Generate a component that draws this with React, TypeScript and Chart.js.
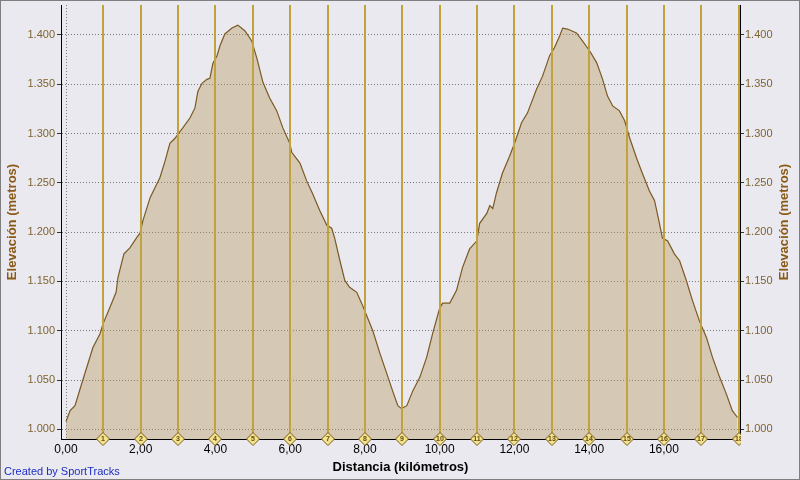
import React, { useEffect, useRef } from 'react';
import { Chart, registerables } from 'chart.js';

Chart.register(...registerables);

// ---- Data ----
const distanceKm = [
  0.0, 0.11, 0.24, 0.45, 0.72, 0.91, 0.99, 1.18, 1.34, 1.39, 1.55, 1.71, 1.9, 1.98,
  2.06, 2.25, 2.38, 2.51, 2.65, 2.78, 2.91, 2.99, 3.13, 3.32, 3.45, 3.53, 3.64, 3.77,
  3.85, 3.93, 4.04, 4.12, 4.25, 4.44, 4.6, 4.79, 4.97, 5.11, 5.27, 5.45, 5.64, 5.8,
  5.99, 6.04, 6.26, 6.44, 6.6, 6.79, 6.98, 7.11, 7.19, 7.33, 7.46, 7.59, 7.78, 7.91,
  8.05, 8.21, 8.4, 8.58, 8.74, 8.88, 8.98, 9.12, 9.28, 9.47, 9.65, 9.81, 10.0, 10.08,
  10.27, 10.45, 10.61, 10.8, 10.99, 11.07, 11.26, 11.34, 11.42, 11.52, 11.68, 11.87,
  12.01, 12.19, 12.35, 12.59, 12.75, 12.94, 13.07, 13.21, 13.29, 13.42, 13.66, 13.82,
  14.01, 14.2, 14.36, 14.49, 14.63, 14.81, 14.95, 15.08, 15.27, 15.43, 15.61, 15.75,
  15.88, 15.96, 16.1, 16.28, 16.42, 16.6, 16.76, 16.95, 17.14, 17.3, 17.49, 17.67,
  17.83, 17.97,
];
const elevationM = [
  1008, 1019, 1024, 1050, 1083, 1097, 1107, 1124, 1139, 1154, 1178, 1184, 1195, 1199,
  1212, 1235, 1245, 1255, 1272, 1290, 1295, 1299, 1306, 1316, 1326, 1343, 1351, 1355,
  1356, 1371, 1379, 1389, 1401, 1407, 1410, 1404, 1394, 1376, 1352, 1336, 1323, 1306,
  1290, 1281, 1270, 1252, 1239, 1222, 1207, 1204, 1194, 1171, 1151, 1144, 1139, 1128,
  1115, 1100, 1077, 1057, 1039, 1024, 1021, 1024, 1039, 1053, 1073, 1097, 1123, 1128,
  1128, 1141, 1164, 1183, 1191, 1209, 1219, 1227, 1224, 1240, 1260, 1277,
  1291, 1311, 1321, 1345, 1358, 1379, 1387, 1399, 1407, 1406, 1402, 1394,
  1384, 1372, 1355, 1338, 1328, 1323, 1313, 1296, 1275, 1259, 1242, 1232,
  1209, 1194, 1191, 1178, 1171, 1151, 1131, 1110, 1093, 1073, 1053, 1036,
  1019, 1012,
];
const markerKm = [1, 2, 3, 4, 5, 6, 7, 8, 9, 10, 11, 12, 13, 14, 15, 16, 17, 18];
const markerLabels = ['1', '2', '3', '4', '5', '6', '7', '8', '9', '10', '11', '12', '13', '14', '15', '16', '17', '18'];
const xTickValues = [0, 2, 4, 6, 8, 10, 12, 14, 16];
const yTickValues = [1000, 1050, 1100, 1150, 1200, 1250, 1300, 1350, 1400];
const xTitle = 'Distancia (kilómetros)';
const yTitle = 'Elevación (metros)';
const creditText = 'Created by SportTracks';

const X_MIN = -0.134;
const X_MAX = 18.036;
const Y_MIN = 990.2;
const Y_MAX = 1430.4;

const FONT = "'Liberation Sans', Arial, sans-serif";
const BG = '#EAE9EF';
const TITLE_BROWN = '#8A5A16';
const TICK_BROWN = '#7E6431';
const GOLD = '#C2A23C';

const fmtX = (v: number) => v.toFixed(2).replace('.', ',');
const fmtY = (v: number) => {
  const r = Math.round(v);
  return `${Math.floor(r / 1000)}.${String(r % 1000).padStart(3, '0')}`;
};

const zeroPad = (axis: any) => {
  axis.paddingTop = 0;
  axis.paddingBottom = 0;
  axis.paddingLeft = 0;
  axis.paddingRight = 0;
};

const decorPlugin = {
  id: 'decor',
  beforeDraw(chart: any) {
    const { ctx, width, height } = chart;
    ctx.save();
    ctx.fillStyle = BG;
    ctx.fillRect(0, 0, width, height);
    ctx.restore();
  },
  afterDatasetsDraw(chart: any) {
    const { ctx, chartArea, scales } = chart;
    const xs = scales.x;
    ctx.save();
    ctx.beginPath();
    ctx.rect(0, 0, chartArea.right + 1, chart.height);
    ctx.clip();
    // lap lines
    ctx.strokeStyle = GOLD;
    ctx.lineWidth = 2;
    markerKm.forEach((km) => {
      const px = Math.round(xs.getPixelForValue(km));
      ctx.beginPath();
      ctx.moveTo(px, chartArea.top);
      ctx.lineTo(px, chartArea.bottom);
      ctx.stroke();
    });
    // diamonds
    markerKm.forEach((km, i) => {
      const px = Math.round(xs.getPixelForValue(km));
      const py = Math.round(chartArea.bottom);
      const s = 6.5;
      ctx.beginPath();
      ctx.moveTo(px, py - s);
      ctx.lineTo(px + s, py);
      ctx.lineTo(px, py + s);
      ctx.lineTo(px - s, py);
      ctx.closePath();
      ctx.fillStyle = '#F1E38E';
      ctx.fill();
      ctx.strokeStyle = '#7A5A18';
      ctx.lineWidth = 1;
      ctx.stroke();
      ctx.fillStyle = '#6A4A10';
      ctx.font = `bold 7px ${FONT}`;
      ctx.textAlign = 'center';
      ctx.textBaseline = 'middle';
      ctx.fillText(markerLabels[i], px, py + 0.5);
    });
    ctx.restore();
  },
  afterDraw(chart: any) {
    const { ctx, chartArea, width, height } = chart;
    ctx.save();
    // right axis title (reads bottom-to-top)
    ctx.translate(784, (chartArea.top + chartArea.bottom) / 2);
    ctx.rotate(-Math.PI / 2);
    ctx.fillStyle = TITLE_BROWN;
    ctx.font = `bold 13px ${FONT}`;
    ctx.textAlign = 'center';
    ctx.textBaseline = 'middle';
    ctx.fillText(yTitle, 0, 0);
    ctx.restore();

    ctx.save();
    ctx.fillStyle = '#1B2EC4';
    ctx.font = `11px ${FONT}`;
    ctx.textAlign = 'left';
    ctx.textBaseline = 'middle';
    ctx.fillText(creditText, 4, 472);
    ctx.strokeStyle = '#7F7F7F';
    ctx.lineWidth = 1;
    ctx.strokeRect(0.5, 0.5, width - 1, height - 1);
    ctx.restore();
  },
};

export default function App() {
  const canvasRef = useRef<HTMLCanvasElement | null>(null);

  useEffect(() => {
    const canvas = canvasRef.current;
    if (!canvas) return;
    const points = distanceKm.map((d, i) => ({ x: d, y: elevationM[i] }));
    const yGrid = {
      color: '#7A7A7A',
      lineWidth: 1,
      tickLength: 4,
      tickColor: '#333333',
      tickBorderDash: [],
      tickWidth: 1,
    };
    const chart = new Chart(canvas, {
      type: 'line',
      data: {
        datasets: [
          {
            data: points,
            xAxisID: 'x',
            yAxisID: 'y',
            borderColor: '#7A5A22',
            borderWidth: 1.2,
            backgroundColor: 'rgba(183,150,96,0.4)',
            fill: 'start',
            pointRadius: 0,
            tension: 0,
          },
        ],
      },
      plugins: [decorPlugin],
      options: {
        responsive: false,
        animation: false,
        layout: { padding: { top: 5, left: 0, right: 0, bottom: 0 } },
        plugins: {
          legend: { display: false },
          tooltip: { enabled: false },
        },
        scales: {
          x: {
            type: 'linear',
            position: 'bottom',
            min: X_MIN,
            max: X_MAX,
            afterBuildTicks: (axis: any) => {
              axis.ticks = xTickValues.map((v) => ({ value: v }));
            },
            afterFit: (axis: any) => {
              axis.height = 41;
              zeroPad(axis);
            },
            grid: {
              color: '#7A7A7A',
              lineWidth: 1,
              drawTicks: false,
            },
            border: { display: true, color: '#000000', width: 1, dash: [1, 2] },
            ticks: {
              autoSkip: false,
              maxRotation: 0,
              padding: 3,
              color: '#000000',
              font: { family: FONT, size: 12 },
              callback: (v: any) => fmtX(Number(v)),
            },
            title: {
              display: true,
              text: xTitle,
              color: '#000000',
              font: { family: FONT, size: 13, weight: 'bold' },
              padding: { top: 0, bottom: 5 },
            },
          },
          y: {
            type: 'linear',
            position: 'left',
            min: Y_MIN,
            max: Y_MAX,
            afterBuildTicks: (axis: any) => {
              axis.ticks = yTickValues.map((v) => ({ value: v }));
            },
            afterFit: (axis: any) => {
              axis.width = 61;
              zeroPad(axis);
            },
            grid: yGrid,
            border: { display: true, color: '#000000', width: 1, dash: [1, 2] },
            ticks: {
              padding: 2,
              color: TICK_BROWN,
              font: { family: FONT, size: 11 },
              callback: (v: any) => fmtY(Number(v)),
            },
            title: {
              display: true,
              text: yTitle,
              color: TITLE_BROWN,
              font: { family: FONT, size: 13, weight: 'bold' },
              padding: { top: 5, bottom: 0 },
            },
          },
          y2: {
            type: 'linear',
            position: 'right',
            min: Y_MIN,
            max: Y_MAX,
            afterBuildTicks: (axis: any) => {
              axis.ticks = yTickValues.map((v) => ({ value: v }));
            },
            afterFit: (axis: any) => {
              axis.width = 60;
              zeroPad(axis);
            },
            grid: { ...yGrid, drawOnChartArea: false },
            border: { display: true, color: '#000000', width: 1 },
            ticks: {
              padding: 1,
              color: TICK_BROWN,
              font: { family: FONT, size: 11 },
              callback: (v: any) => fmtY(Number(v)),
            },
          },
        },
      },
    } as any);
    return () => chart.destroy();
  }, []);

  return (
    <div style={{ position: 'fixed', left: 0, top: 0, width: 800, height: 480 }}>
      <canvas ref={canvasRef} width={800} height={480} style={{ display: 'block', width: 800, height: 480 }} />
    </div>
  );
}
